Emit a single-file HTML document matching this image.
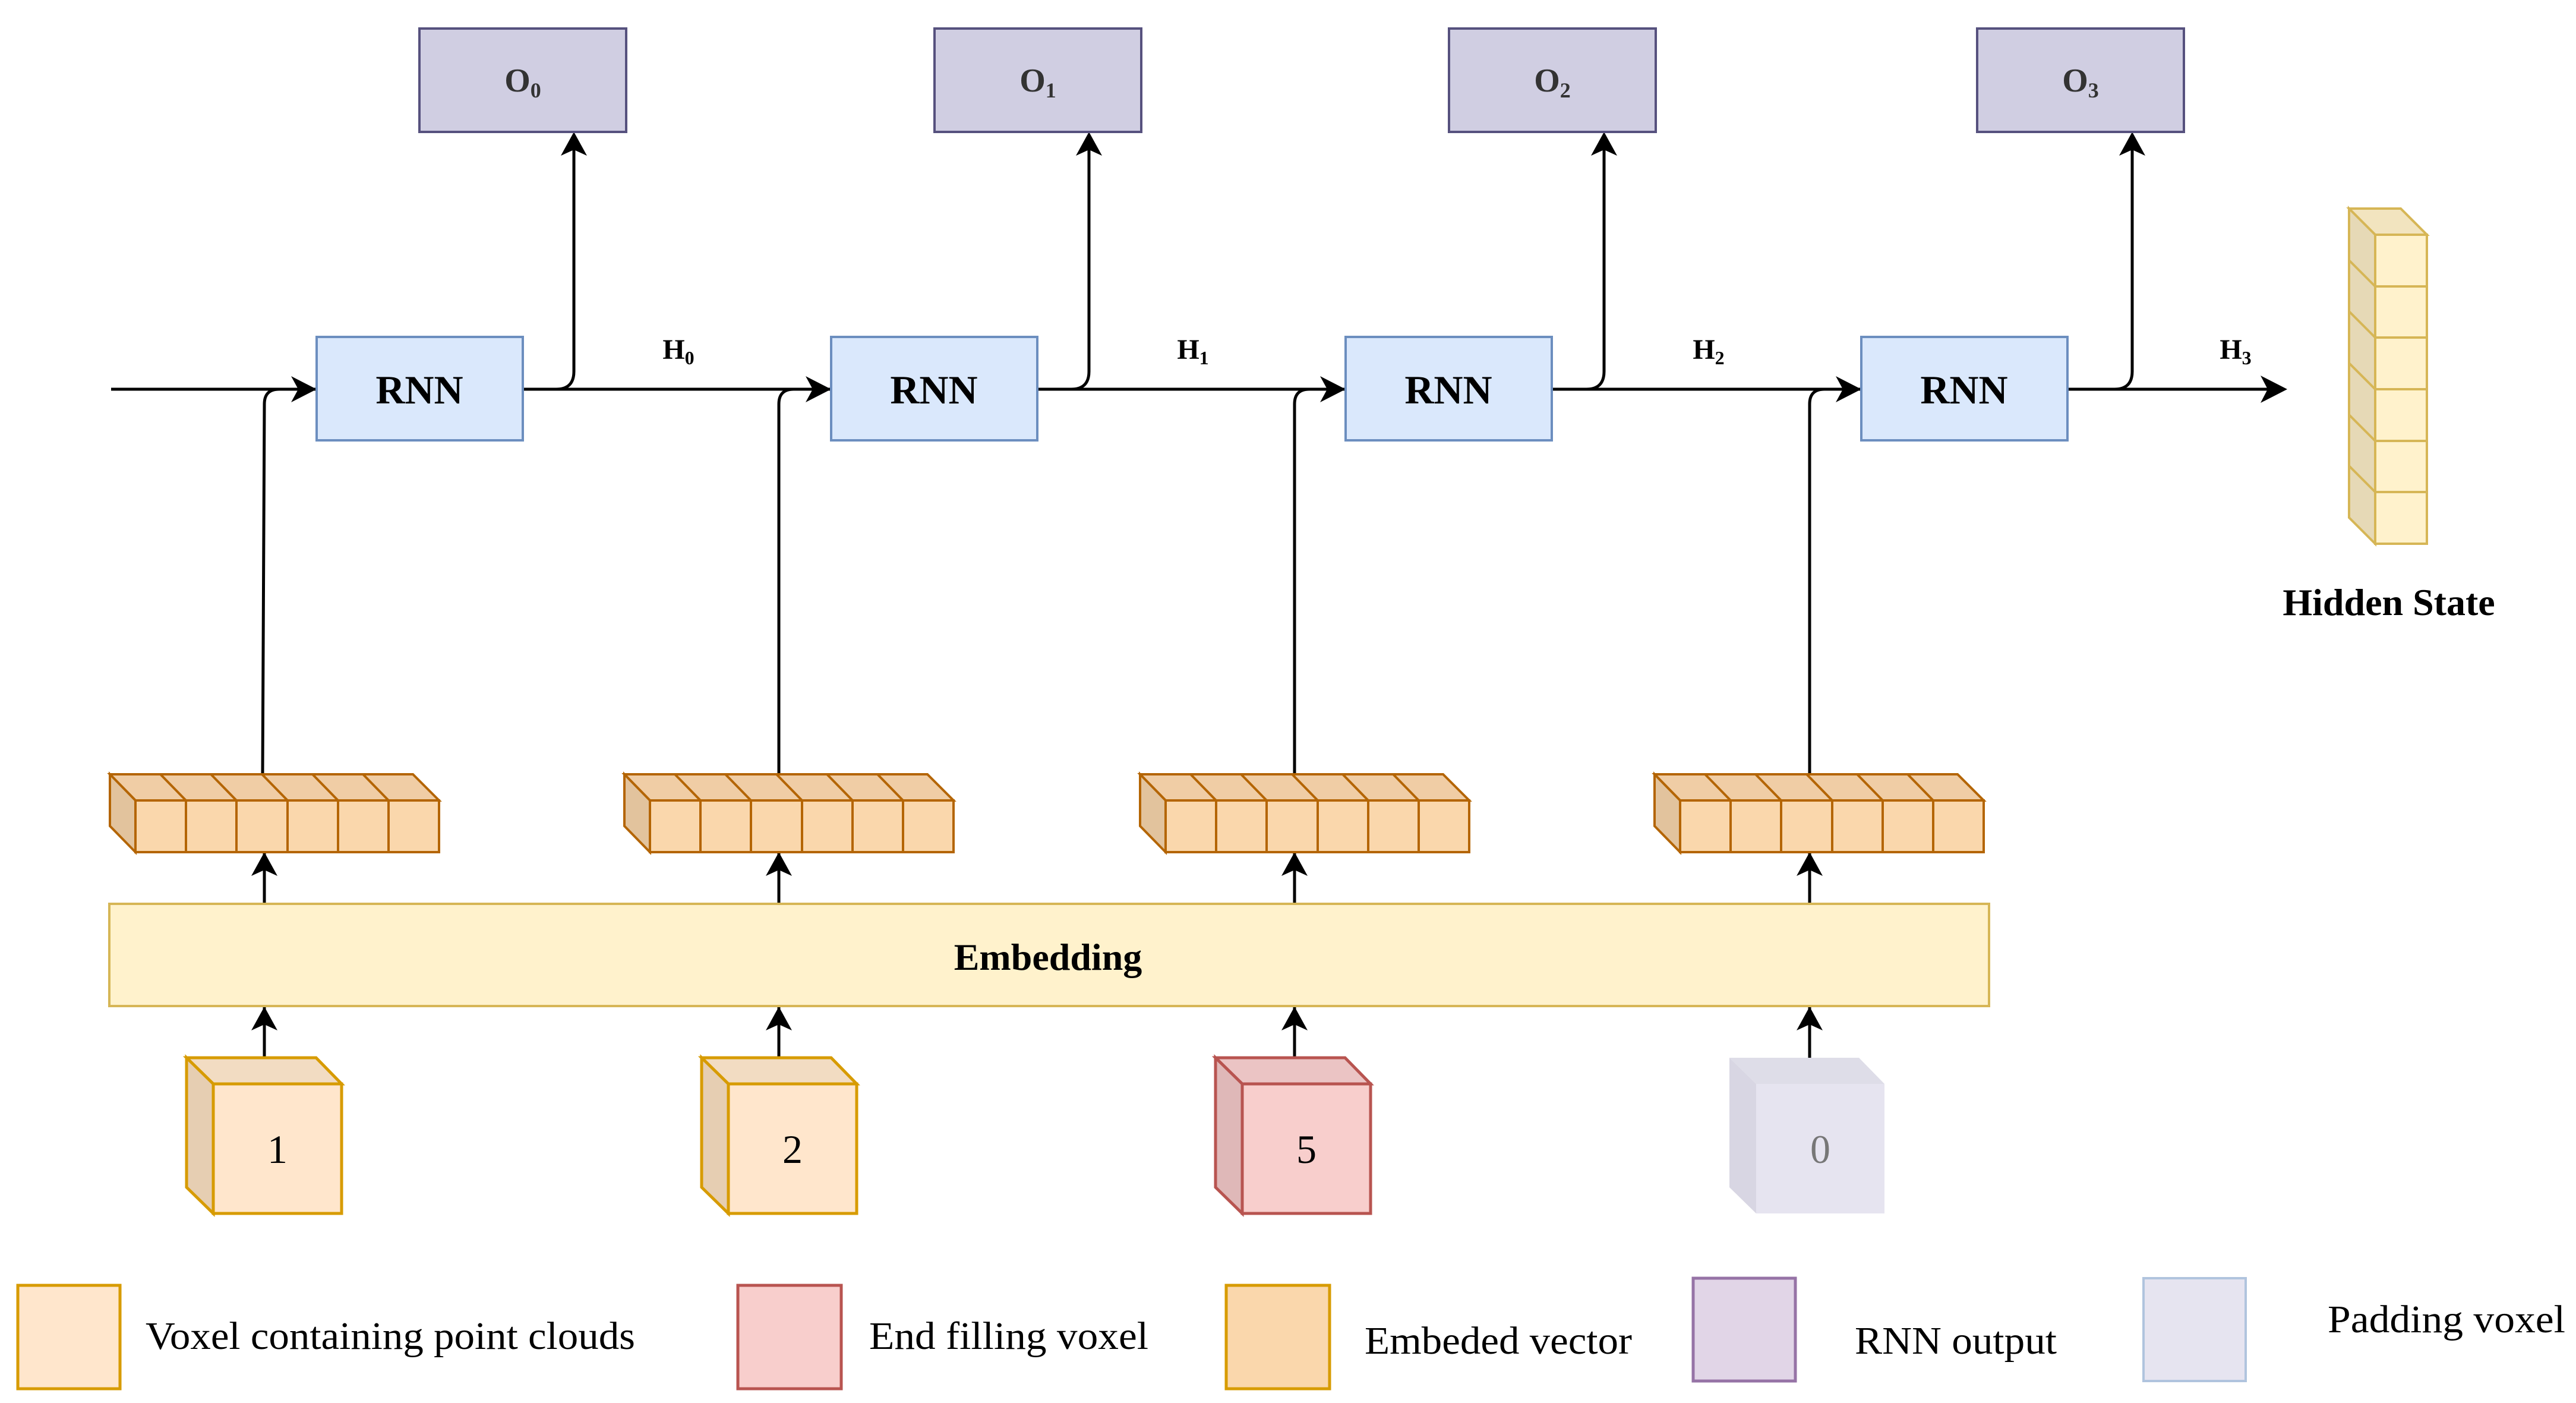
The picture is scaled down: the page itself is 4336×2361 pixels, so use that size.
<!DOCTYPE html>
<html><head><meta charset="utf-8"><style>
html,body{margin:0;padding:0;background:#fff}
svg{display:block}
svg text{font-family:"Liberation Serif","DejaVu Serif",serif !important}
</style></head><body>
<svg width="4336" height="2361" viewBox="0 0 4336 2361" xmlns="http://www.w3.org/2000/svg" font-family="'Liberation Serif', 'DejaVu Serif', serif">
<g id="all" stroke-linejoin="miter" font-family="'Liberation Serif', 'DejaVu Serif', serif">
<g fill="none" stroke="#000" stroke-width="5">
<path d="M187,655 H533"/>
<path d="M880,655 H1399"/>
<path d="M1746,655 H2265"/>
<path d="M2612,655 H3133"/>
<path d="M3480,655 H3830"/>
</g>
<g fill="#000">
<path d="M533,655 L490,633 L502,655 L490,677 Z"/>
<path d="M1399,655 L1356,633 L1368,655 L1356,677 Z"/>
<path d="M2265,655 L2222,633 L2234,655 L2222,677 Z"/>
<path d="M3133,655 L3090,633 L3102,655 L3090,677 Z"/>
<path d="M3850,655 L3805,632 L3817,655 L3805,678 Z"/>
</g>
<g fill="none" stroke="#000" stroke-width="5">
<path d="M442,1303 L445,680 Q445,655 470,655"/>
<path d="M1311,1303 V680 Q1311,655 1336,655"/>
<path d="M2179,1303 V680 Q2179,655 2204,655"/>
<path d="M3046,1303 V680 Q3046,655 3071,655"/>
<path d="M936,655 Q966,655 966,625 V235"/>
<path d="M1803,655 Q1833,655 1833,625 V235"/>
<path d="M2670,655 Q2700,655 2700,625 V235"/>
<path d="M3559,655 Q3589,655 3589,625 V235"/>
<path d="M445,1694 V1790 M445,1434 V1520"/>
<path d="M1311,1694 V1790 M1311,1434 V1520"/>
<path d="M2179,1694 V1790 M2179,1434 V1520"/>
<path d="M3046,1694 V1790 M3046,1434 V1520"/>
</g>
<g fill="#000">
<path d="M966,222 L944,262 L966,252 L988,262 Z"/>
<path d="M1833,222 L1811,262 L1833,252 L1855,262 Z"/>
<path d="M2700,222 L2678,262 L2700,252 L2722,262 Z"/>
<path d="M3589,222 L3567,262 L3589,252 L3611,262 Z"/>
<path d="M445,1434 L423,1474 L445,1464 L467,1474 Z"/>
<path d="M1311,1434 L1289,1474 L1311,1464 L1333,1474 Z"/>
<path d="M2179,1434 L2157,1474 L2179,1464 L2201,1474 Z"/>
<path d="M3046,1434 L3024,1474 L3046,1464 L3068,1474 Z"/>
<path d="M445,1694 L423,1734 L445,1724 L467,1734 Z"/>
<path d="M1311,1694 L1289,1734 L1311,1724 L1333,1734 Z"/>
<path d="M2179,1694 L2157,1734 L2179,1724 L2201,1734 Z"/>
<path d="M3046,1694 L3024,1734 L3046,1724 L3068,1734 Z"/>
</g>
<g fill="#d0cee2" stroke="#56517e" stroke-width="4">
<rect x="706" y="48" width="348" height="174"/>
<rect x="1573" y="48" width="348" height="174"/>
<rect x="2439" y="48" width="348" height="174"/>
<rect x="3328" y="48" width="348" height="174"/>
</g>
<g font-size="56" font-weight="bold" fill="#333" text-anchor="middle">
<text x="880" y="154">O<tspan font-size="36" dy="10">0</tspan></text>
<text x="1747" y="154">O<tspan font-size="36" dy="10">1</tspan></text>
<text x="2613" y="154">O<tspan font-size="36" dy="10">2</tspan></text>
<text x="3502" y="154">O<tspan font-size="36" dy="10">3</tspan></text>
</g>
<g fill="#dae8fc" stroke="#6c8ebf" stroke-width="4">
<rect x="533" y="567" width="347" height="174"/>
<rect x="1399" y="567" width="347" height="174"/>
<rect x="2265" y="567" width="347" height="174"/>
<rect x="3133" y="567" width="347" height="174"/>
</g>
<g font-size="68" font-weight="bold" fill="#000" text-anchor="middle">
<text x="706" y="679">RNN</text>
<text x="1572" y="679">RNN</text>
<text x="2438" y="679">RNN</text>
<text x="3306" y="679">RNN</text>
</g>
<g font-size="48" font-weight="bold" fill="#000" text-anchor="middle">
<text x="1142" y="604">H<tspan font-size="32" dy="9">0</tspan></text>
<text x="2008" y="604">H<tspan font-size="32" dy="9">1</tspan></text>
<text x="2876" y="604">H<tspan font-size="32" dy="9">2</tspan></text>
<text x="3763" y="604">H<tspan font-size="32" dy="9">3</tspan></text>
</g>
<g id="ev" stroke="#b46504" stroke-width="4">
<path d="M185,1303 H695 L739,1347 H228 Z" fill="#f0cda5"/>
<path d="M185,1303 L228,1347 V1434 L185,1390 Z" fill="#e2c39d"/>
<rect x="228" y="1347" width="511" height="87" fill="#fad7ac"/>
<path d="M313,1347 V1434 M398,1347 V1434 M484,1347 V1434 M569,1347 V1434 M654,1347 V1434 M270,1303 L313,1347 M355,1303 L398,1347 M441,1303 L484,1347 M526,1303 L569,1347 M611,1303 L654,1347" fill="none"/>
</g>
<use href="#ev" x="866"/>
<use href="#ev" x="1734"/>
<use href="#ev" x="2600"/>
<rect x="184" y="1521" width="3164" height="172" fill="#fff2cc" stroke="#d6b656" stroke-width="4"/>
<text x="1764" y="1632" font-size="64" font-weight="bold" text-anchor="middle">Embedding</text>
<g stroke="#d79b00" stroke-width="5">
<path d="M314,1780 H532 L575,1824 H359 Z" fill="#f2dcc2"/>
<path d="M314,1780 L359,1824 V2042 L314,1998 Z" fill="#e6ceb2"/>
<rect x="359" y="1824" width="216" height="218" fill="#ffe6cc"/>
<path d="M1181,1780 H1399 L1442,1824 H1226 Z" fill="#f2dcc2"/>
<path d="M1181,1780 L1226,1824 V2042 L1181,1998 Z" fill="#e6ceb2"/>
<rect x="1226" y="1824" width="216" height="218" fill="#ffe6cc"/>
</g>
<g stroke="#b85450" stroke-width="5">
<path d="M2046,1780 H2264 L2307,1824 H2091 Z" fill="#ebc4c4"/>
<path d="M2046,1780 L2091,1824 V2042 L2046,1998 Z" fill="#dfb8b8"/>
<rect x="2091" y="1824" width="216" height="218" fill="#f8cecc"/>
</g>
<g>
<path d="M2911,1780 H3129 L3172,1824 H2956 Z" fill="#dedde8"/>
<path d="M2911,1780 L2956,1824 V2042 L2911,1998 Z" fill="#d8d6e3"/>
<rect x="2956" y="1824" width="216" height="218" fill="#e6e4f0"/>
</g>
<g font-size="68" text-anchor="middle">
<text x="467" y="1957">1</text>
<text x="1334" y="1957">2</text>
<text x="2199" y="1957">5</text>
<text x="3064" y="1957" fill="#777">0</text>
</g>
<g stroke="#d6b656" stroke-width="4">
<path d="M3954,351 H4041 L4085,395 H3998 Z" fill="#f2e4bf"/>
<path d="M3954,351 L3998,395 V915 L3954,871 Z" fill="#e6d9b6"/>
<rect x="3998" y="395" width="87" height="520" fill="#fff2cc"/>
<path d="M3998,482 H4085 M3998,568 H4085 M3998,655 H4085 M3998,742 H4085 M3998,828 H4085 M3954,438 L3998,482 M3954,524 L3998,568 M3954,611 L3998,655 M3954,698 L3998,742 M3954,784 L3998,828" fill="none"/>
</g>
<text x="4021" y="1035" font-size="64" font-weight="bold" text-anchor="middle">Hidden State</text>
<rect x="30" y="2163" width="172" height="174" fill="#ffe6cc" stroke="#d79b00" stroke-width="5"/>
<rect x="1242" y="2163" width="174" height="174" fill="#f8cecc" stroke="#b85450" stroke-width="5"/>
<rect x="2064" y="2163" width="174" height="174" fill="#fad7ac" stroke="#d79b00" stroke-width="5"/>
<rect x="2850" y="2151" width="172" height="173" fill="#e1d5e7" stroke="#9673a6" stroke-width="5"/>
<rect x="3608" y="2151" width="172" height="173" fill="#e6e4f0" stroke="#b0c4de" stroke-width="4"/>
<g font-size="66">
<text x="245" y="2270" textLength="824" lengthAdjust="spacingAndGlyphs">Voxel containing point clouds</text>
<text x="1463" y="2270" textLength="470" lengthAdjust="spacingAndGlyphs">End filling voxel</text>
<text x="2297" y="2278" textLength="450" lengthAdjust="spacingAndGlyphs">Embeded vector</text>
<text x="3122" y="2278" textLength="340" lengthAdjust="spacingAndGlyphs">RNN output</text>
<text x="3918" y="2242" textLength="400" lengthAdjust="spacingAndGlyphs">Padding voxel</text>
</g>
</g>
</svg>
</body></html>
